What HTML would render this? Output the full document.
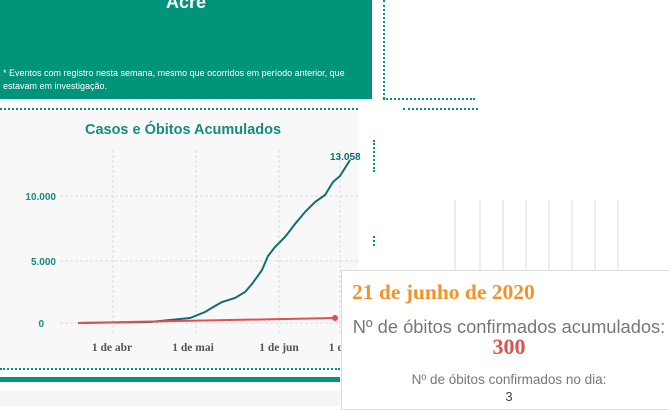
<!DOCTYPE html>
<html><head><meta charset="utf-8"><style>
body{margin:0;width:669px;height:406px;overflow:hidden;background:#fff;font-family:"Liberation Sans",sans-serif;position:relative}
.a{position:absolute}
</style></head><body>
<div class="a" style="left:0;top:391px;width:669px;height:15px;background:#f5f5f5"></div>
<div class="a" style="left:0;top:0;width:372px;height:99px;background:#00947a"></div>
<div class="a" style="left:0;top:-8px;width:372px;text-align:center;color:#fff;font-weight:bold;font-size:18px">Acre</div>
<div class="a" style="left:3px;top:67px;width:360px;color:#fff;font-size:9px;line-height:13px">* Eventos com registro nesta semana, mesmo que ocorridos em período anterior, que estavam em investigação.</div>
<div class="a" style="left:0;top:108px;width:358px;border-top:2px dotted #00947a"></div>
<div class="a" style="left:383px;top:0;height:99px;border-left:2px dotted #00947a"></div>
<div class="a" style="left:383px;top:98px;width:92px;border-top:2px dotted #00947a"></div>
<div class="a" style="left:403px;top:108px;width:75px;border-top:2px dotted #00947a"></div>
<div class="a" style="left:373px;top:140px;height:32px;border-left:2px dotted #00947a"></div>
<div class="a" style="left:373px;top:236px;height:10px;border-left:2px dotted #00947a"></div>
<div class="a" style="left:0;top:112px;width:358px;height:255px;background:#f8f8f8"></div>
<div class="a" style="left:0;top:122px;width:366px;text-align:center;color:#168b80;font-weight:bold;font-size:14.5px">Casos e Óbitos Acumulados</div>
<svg class="a" style="left:0;top:0" width="669" height="406">
<g stroke="#ddd" stroke-dasharray="3,2" stroke-width="1">
<line x1="60" y1="196" x2="358" y2="196"/><line x1="60" y1="261" x2="358" y2="261"/><line x1="60" y1="323" x2="358" y2="323"/>
<line x1="113" y1="150" x2="113" y2="335"/><line x1="196" y1="150" x2="196" y2="335"/><line x1="279" y1="150" x2="279" y2="335"/><line x1="340" y1="150" x2="340" y2="335"/>
</g>
<g stroke="#ddd" stroke-width="1"><line x1="455" y1="200" x2="455" y2="270"/><line x1="480" y1="200" x2="480" y2="270"/><line x1="503" y1="200" x2="503" y2="270"/><line x1="526" y1="200" x2="526" y2="270"/><line x1="549" y1="200" x2="549" y2="270"/><line x1="572" y1="200" x2="572" y2="270"/><line x1="595" y1="200" x2="595" y2="270"/><line x1="618" y1="200" x2="618" y2="270"/></g>
<g font-size="10" font-weight="bold" fill="#168b80" text-anchor="end"><text x="56" y="200">10.000</text><text x="56" y="265">5.000</text><text x="44" y="327">0</text></g>
<g font-size="11.5" font-weight="bold" fill="#555" text-anchor="middle" font-family="Liberation Serif,serif"><text x="112" y="351">1 de abr</text><text x="193" y="351">1 de mai</text><text x="279" y="351">1 de jun</text><text x="347" y="351">1 de jul</text></g>
<polyline fill="none" stroke="#0e6e78" stroke-width="2" points="78,323 150,322 190,318 205,312 215,306 222,302 235,298 245,292 252,284 262,270 268,256 275,247 285,237 295,224 305,212 315,202 325,195 333,182 340,176 350,160"/>
<text x="330" y="160" font-size="10" font-weight="bold" fill="#0e6e78">13.058</text>
<line x1="78" y1="323" x2="335" y2="318" stroke="#e05050" stroke-width="2"/>
<circle cx="335" cy="318" r="3" fill="#e05050"/>
</svg>
<div class="a" style="left:0;top:368px;width:340px;border-top:2px dotted #00947a"></div>
<div class="a" style="left:0;top:377px;width:340px;height:5px;background:#00947a"></div>
<div class="a" style="left:341px;top:270px;width:330px;height:140px;background:#fff;border:1px solid #ddd;box-sizing:border-box"></div>
<div class="a" style="left:352px;top:280px;color:#f0932b;font-family:'Liberation Serif',serif;font-weight:bold;font-size:21.5px">21 de junho de 2020</div>
<div class="a" style="left:341px;top:316px;width:336px;text-align:center;color:#777;font-size:18.3px;white-space:nowrap">Nº de óbitos confirmados acumulados:</div>
<div class="a" style="left:341px;top:334px;width:336px;text-align:center;color:#d9534f;font-family:'Liberation Serif',serif;font-weight:bold;font-size:22px">300</div>
<div class="a" style="left:341px;top:372px;width:336px;text-align:center;color:#777;font-size:13.5px">Nº de óbitos confirmados no dia:</div>
<div class="a" style="left:341px;top:389px;width:336px;text-align:center;color:#444;font-size:13px">3</div>
</body></html>
